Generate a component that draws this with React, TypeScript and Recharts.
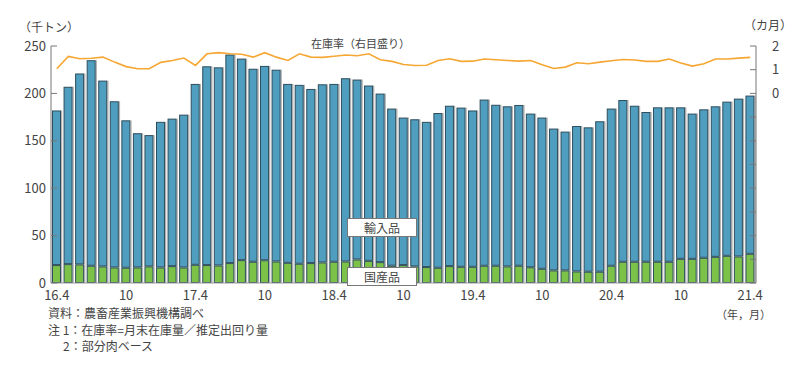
import { Bar, ComposedChart, Line, XAxis, YAxis } from 'recharts';

// 16.4 .. 21.4, monthly
const months = [
  '16.4', '16.5', '16.6', '16.7', '16.8', '16.9', '16.10', '16.11', '16.12', '17.1', '17.2', '17.3',
  '17.4', '17.5', '17.6', '17.7', '17.8', '17.9', '17.10', '17.11', '17.12', '18.1', '18.2', '18.3',
  '18.4', '18.5', '18.6', '18.7', '18.8', '18.9', '18.10', '18.11', '18.12', '19.1', '19.2', '19.3',
  '19.4', '19.5', '19.6', '19.7', '19.8', '19.9', '19.10', '19.11', '19.12', '20.1', '20.2', '20.3',
  '20.4', '20.5', '20.6', '20.7', '20.8', '20.9', '20.10', '20.11', '20.12', '21.1', '21.2', '21.3',
  '21.4',
];

// 国産品 (千トン)
const domestic = [
  18.9, 19.9, 19.6, 18.2, 17.5, 16.4, 16.1, 16.4, 17.5, 16.4, 17.8, 16.4,
  19.2, 18.9, 18.5, 21.0, 24.1, 22.4, 24.0, 22.7, 21.3, 20.3, 21.0, 21.7,
  22.4, 22.7, 24.8, 23.4, 22.0, 18.2, 18.9, 17.5, 16.8, 16.1, 17.8, 17.1,
  17.1, 18.2, 18.2, 17.5, 18.2, 16.6, 15.0, 13.3, 13.3, 12.2, 11.9, 11.9,
  18.2, 22.4, 22.4, 22.4, 22.4, 22.4, 25.5, 25.5, 26.6, 27.6, 28.7, 28.0,
  30.8,
];

// 輸入品 (千トン)
const imported = [
  163.1, 187.1, 201.4, 216.8, 196.0, 175.3, 155.5, 141.6, 138.5, 153.6, 155.6, 161.2,
  190.8, 209.7, 209.0, 220.0, 212.6, 203.6, 205.0, 202.3, 188.7, 188.7, 183.7, 187.9,
  187.6, 193.3, 189.8, 184.9, 177.8, 165.8, 155.6, 155.2, 153.2, 163.2, 169.2, 167.9,
  164.9, 175.3, 169.8, 168.9, 169.6, 162.1, 159.5, 149.6, 146.4, 153.4, 152.3, 158.7,
  165.8, 170.6, 164.6, 158.0, 162.9, 162.9, 159.8, 153.2, 156.6, 158.8, 162.6, 166.5,
  166.9,
];

// 在庫率 (カ月)
const stockRatio = [
  1.04, 1.56, 1.46, 1.48, 1.53, 1.32, 1.13, 1.04, 1.04, 1.31, 1.39, 1.49,
  1.18, 1.67, 1.72, 1.67, 1.65, 1.53, 1.72, 1.53, 1.39, 1.67, 1.53, 1.52,
  1.57, 1.62, 1.59, 1.67, 1.42, 1.35, 1.22, 1.18, 1.19, 1.39, 1.46, 1.35,
  1.36, 1.45, 1.42, 1.39, 1.36, 1.39, 1.21, 1.05, 1.11, 1.29, 1.25, 1.32,
  1.38, 1.43, 1.41, 1.35, 1.35, 1.45, 1.28, 1.15, 1.25, 1.45, 1.45, 1.49,
  1.52,
];

const xTicks = ['16.4', '16.10', '17.4', '17.10', '18.4', '18.10', '19.4', '19.10', '20.4', '20.10', '21.4'];
const leftTicks = [0, 50, 100, 150, 200, 250];
const rightTicks = [-8, -7, -6, -5, -4, -3, -2, -1, 0, 1, 2];

const data = months.map((m, i) => ({
  month: m,
  domestic: domestic[i],
  imported: imported[i],
  ratio: stockRatio[i],
}));

const FONT = '"Noto Sans CJK JP", "Noto Sans", sans-serif';
const TEXT = '#444';
const AXIS = '#777';

const BarShape = (props: any) => {
  const { x, y, width, height, fill } = props;
  if (!height || height <= 0) return null;
  return (
    <g>
      <rect x={x + width} y={y} width={1.3} height={height} fill="#b4b4b4" />
      <rect
        x={x + 0.5}
        y={y + 0.5}
        width={width - 1}
        height={height - 1}
        fill={fill}
        stroke="#2e4d5c"
        strokeWidth={1}
      />
    </g>
  );
};

const LeftTick = (props: any) => {
  const { x, y, payload } = props;
  return (
    <g>
      <line x1={x + 5} x2={x + 11} y1={y} y2={y} stroke={AXIS} strokeWidth={1} />
      <text x={x} y={y} dy={4.5} textAnchor="end" fontSize={13} fill={TEXT} fontFamily={FONT}>
        {payload.value}
      </text>
    </g>
  );
};

const RightTick = (props: any) => {
  const { x, y, payload } = props;
  return (
    <g>
      <line x1={x - 22} x2={x - 16} y1={y} y2={y} stroke={AXIS} strokeWidth={1} />
      {payload.value >= 0 && (
        <text x={x} y={y} dy={4.5} textAnchor="start" fontSize={13} fill={TEXT} fontFamily={FONT}>
          {payload.value}
        </text>
      )}
    </g>
  );
};

const fmtMonth = (m: string) => (m.endsWith('.10') ? '10' : m);

const boxStyle = {
  position: 'absolute' as const,
  left: 347,
  width: 70,
  height: 19,
  background: '#fff',
  border: '1px solid #777',
  boxSizing: 'border-box' as const,
  fontSize: 12,
  lineHeight: '17px',
  textAlign: 'center' as const,
  color: TEXT,
  fontFamily: FONT,
};

const txt = (left: number, top: number, size = 12) => ({
  position: 'absolute' as const,
  left,
  top,
  fontSize: size,
  lineHeight: 1,
  color: TEXT,
  fontFamily: FONT,
  whiteSpace: 'nowrap' as const,
});

export default function App() {
  return (
    <div style={{ position: 'absolute', left: 0, top: 0, width: 800, height: 370, background: '#fff' }}>
      <ComposedChart
        width={800}
        height={370}
        data={data}
        margin={{ top: 46, right: 0, bottom: 0, left: 0 }}
        barCategoryGap={1}
      >
        <XAxis
          dataKey="month"
          ticks={xTicks}
          interval={0}
          height={87}
          tickLine={false}
          tickSize={0}
          tickMargin={8}
          axisLine={{ stroke: '#999' }}
          tickFormatter={fmtMonth}
          tick={{ fontSize: 13, fill: TEXT, fontFamily: FONT }}
        />
        <YAxis
          yAxisId="left"
          orientation="left"
          width={51}
          domain={[0, 250]}
          ticks={leftTicks}
          interval={0}
          tickLine={false}
          tickSize={0}
          tickMargin={5}
          axisLine={{ stroke: AXIS }}
          tick={<LeftTick />}
        />
        <YAxis
          yAxisId="right"
          orientation="right"
          width={44}
          domain={[-8, 2]}
          ticks={rightTicks}
          interval={0}
          tickLine={false}
          tickSize={0}
          tickMargin={16}
          axisLine={{ stroke: AXIS }}
          tick={<RightTick />}
        />
        <Bar
          yAxisId="left"
          dataKey="domestic"
          stackId="s"
          fill="#7cc249"
          barSize={9}
          shape={<BarShape />}
          isAnimationActive={false}
        />
        <Bar
          yAxisId="left"
          dataKey="imported"
          stackId="s"
          fill="#4f9ec0"
          barSize={9}
          shape={<BarShape />}
          isAnimationActive={false}
        />
        <Line
          yAxisId="right"
          dataKey="ratio"
          type="linear"
          stroke="#f6a733"
          strokeWidth={1.6}
          dot={false}
          isAnimationActive={false}
        />
      </ComposedChart>

      <div style={txt(19, 21, 12)}>（千トン）</div>
      <div style={txt(744, 19, 12)}>（カ月）</div>
      <div style={txt(311, 38, 11)}>在庫率（右目盛り）</div>
      <div style={{ ...boxStyle, top: 218 }}>輸入品</div>
      <div style={{ ...boxStyle, top: 267 }}>国産品</div>
      <div style={txt(716, 309, 11)}>（年，月）</div>
      <div style={txt(48, 307, 12)}>資料：農畜産業振興機構調べ</div>
      <div style={txt(48, 324, 12)}>注 1：在庫率=月末在庫量／推定出回り量</div>
      <div style={txt(63, 340, 12)}>2：部分肉ベース</div>
    </div>
  );
}
